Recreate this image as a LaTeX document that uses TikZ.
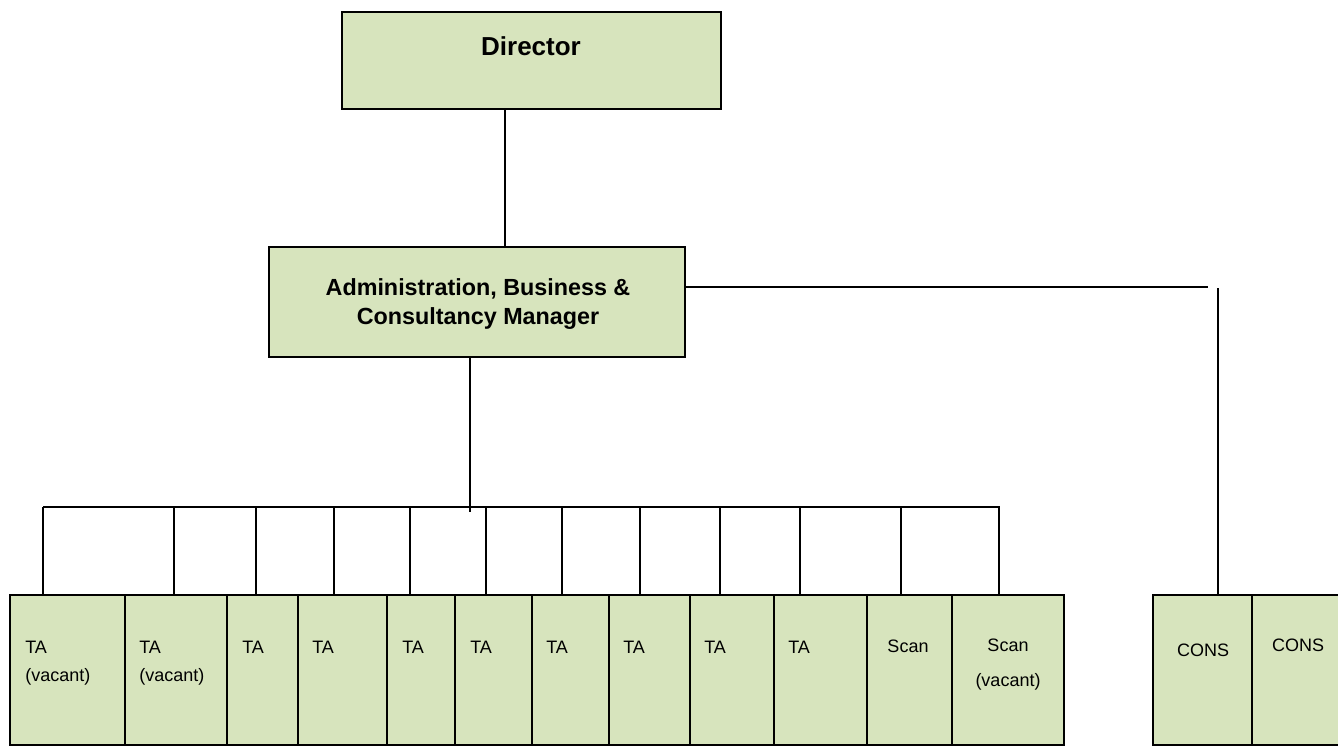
\documentclass[tikz,border=0pt]{standalone}
\usepackage{fontspec}
\setmainfont{Liberation Sans}
\usetikzlibrary{fit}
\definecolor{boxgreen}{HTML}{D7E4BD}

\begin{document}
\begin{tikzpicture}[x=0.75pt,y=-0.75pt,
      box/.style={
        draw,
        line width=1.5pt,
        fill=boxgreen,
        inner sep=0pt
      },
      head/.style={
        font=\bfseries\fontsize{17.5}{21.75}\selectfont,
        align=center,
        anchor=base,
        inner sep=0pt
      },
      post/.style={
        font=\fontsize{13.5}{21}\selectfont,
        align=left,
        anchor=base west,
        inner sep=0pt
      },
      link/.style={line width=1.5pt}
    ]
    \useasboundingbox (0,0) rectangle (1338,747);
    % management
    \node[box,fit={(342,12) (721,109)}] (dir) {};
    \node[box,fit={(269,247) (685,357)}] (adm) {};
    \node[head,font=\bfseries\fontsize{19.5}{24}\selectfont] (dirtext) at (531,55) {Director};
    \node[head] (admtext) at (478,324) {Administration, Business \&\\Consultancy Manager};
    % staff row
    \foreach \l/\r [count=\i] in {10/125,125/227,227/298,298/387,387/455,455/532,532/609,609/690,690/774,774/867,867/952,952/1064}
      \node[box,fit={(\l,595) (\r,745)}] (s\i) {};
    \node[box,fit={(1153,595) (1252,745)}] (c1) {};
    \node[box,fit={(1252,595) (1342,745)}] (c2) {};
    \node[post] (t1) at (25,681) {TA\\(vacant)};
    \node[post] (t2) at (139,681) {TA\\(vacant)};
    \foreach \x [count=\i from 3] in {242,312,402,470,546,623,704,788}
      \node[post] (t\i) at (\x,653) {TA};
    \node[post,anchor=base] (t11) at (908,652) {Scan};
    \node[post,anchor=base,align=center,font=\fontsize{13.5}{26}\selectfont] (t12) at (1008,686) {Scan\\(vacant)};
    \node[post,anchor=base] (c1text) at (1203,656) {CONS};
    \node[post,anchor=base] (c2text) at (1298,651) {CONS};
    % lines
    \coordinate (busl) at (43,507);
    \coordinate (busr) at (1000,507);
    \coordinate (busmid) at (470,512);
    \coordinate (side) at (1208,287);
    \coordinate (sidedrop) at (1218,288);
    \draw[link] (dir.south -| 505,0) -- (adm.north -| 505,0);
    \draw[link] (adm.south -| busmid) -- (busmid);
    \draw[link] (busl) -- (busr);
    \draw[link] (adm.east |- side) -- (side);
    \draw[link] (sidedrop) -- (c1.north -| sidedrop);
    \foreach \x [count=\i] in {43,174,256,334,410,486,562,640,720,800,901,999}
      \draw[link] (\x,0 |- busl) -- (s\i.north -| \x,0);
  \end{tikzpicture}
\end{document}
